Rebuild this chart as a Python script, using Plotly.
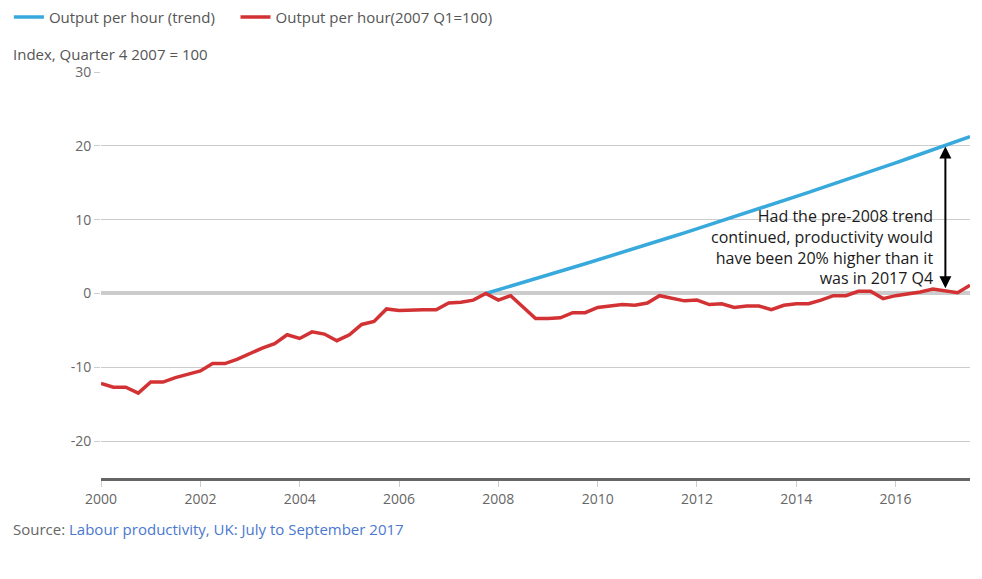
import pandas as pd
import plotly.graph_objects as go

# quarterly points, 2000 Q1 to 2017 Q3
quarters = pd.date_range("2000-01-01", "2017-07-01", freq="QS")
trend_quarters = pd.date_range("2007-10-01", "2017-07-01", freq="QS")

actual_vals = [
    -12.2, -12.7, -12.7, -13.5,
    -12.0, -12.0, -11.4, -11.0,
    -10.5, -9.5, -9.5, -8.9,
    -8.1, -7.4, -6.8, -5.6,
    -6.1, -5.2, -5.5, -6.4,
    -5.6, -4.2, -3.8, -2.1,
    -2.3, -2.2, -2.2, -2.2,
    -1.3, -1.2, -0.9, 0.0,
    -0.9, -0.3, -1.9, -3.4,
    -3.4, -3.3, -2.6, -2.6,
    -1.9, -1.7, -1.5, -1.6,
    -1.3, -0.3, -0.7, -1.0,
    -0.9, -1.5, -1.4, -1.9,
    -1.7, -1.7, -2.2, -1.6,
    -1.4, -1.4, -0.9, -0.3,
    -0.3, 0.3, 0.3, -0.7,
    -0.3, -0.1, 0.2, 0.6,
    0.3, 0.1, 1.1,
]

trend_vals = [
    0.0, 0.49, 0.99, 1.49, 1.99, 2.49, 3.00, 3.51, 4.02, 4.53,
    5.05, 5.57, 6.09, 6.62, 7.15, 7.68, 8.21, 8.75, 9.29, 9.83,
    10.37, 10.92, 11.47, 12.02, 12.58, 13.13, 13.69, 14.26, 14.82, 15.39,
    15.97, 16.54, 17.12, 17.70, 18.28, 18.86, 19.45, 20.04, 20.64, 21.23,
]

y_ticks = [-20, -10, 0, 10, 20, 30]
y_labels = ["-20", "-10", "0", "10", "20", "30"]
x_ticks = [str(y) + "-01-01" for y in range(2000, 2017, 2)]
x_labels = [str(y) for y in range(2000, 2017, 2)]

BLUE = "#37a9dc"
RED = "#d33234"
GREY_TXT = "#666666"

fig = go.Figure()
# &nbsp; padding spaces the two legend entries like the original
fig.add_trace(go.Scatter(x=trend_quarters, y=trend_vals, mode="lines",
                         line=dict(color=BLUE, width=3.5),
                         name="Output per hour (trend)&nbsp;&nbsp;&nbsp;&nbsp;"))
fig.add_trace(go.Scatter(x=quarters, y=actual_vals, mode="lines",
                         line=dict(color=RED, width=3.5),
                         name="Output per hour(2007 Q1=100)"))

# double headed arrow showing the gap
fig.add_annotation(x="2017-01-01", y=19.9, ax="2017-01-01", ay=0.5,
                   xref="x", yref="y", axref="x", ayref="y",
                   showarrow=True, arrowhead=2, startarrowhead=2,
                   arrowside="end+start", arrowsize=1.2, arrowwidth=2,
                   arrowcolor="black", text="")

fig.add_annotation(x="2016-10-20", y=0.35, xref="x", yref="y",
                   xanchor="right", yanchor="bottom", align="right",
                   showarrow=False,
                   text="Had the pre-2008 trend<br>continued, productivity would<br>"
                        "have been 20% higher than it<br>was in 2017 Q4",
                   font=dict(family="Open Sans", size=16, color="#1a1a1a"))

fig.add_annotation(x=-0.103, y=1.045, xref="paper", yref="paper",
                   xanchor="left", yanchor="middle", showarrow=False,
                   text="Index, Quarter 4 2007 = 100",
                   font=dict(family="Open Sans", size=15, color="#555555"))

fig.add_annotation(x=-0.103, y=-0.125, xref="paper", yref="paper",
                   xanchor="left", yanchor="middle", showarrow=False,
                   text="Source: <span style='color:#4a78cf'>Labour productivity, UK: July to September 2017</span>",
                   font=dict(family="Open Sans", size=15, color=GREY_TXT))

fig.update_xaxes(type="date", range=["2000-01-01", "2017-07-01"],
                 tickvals=x_ticks, ticktext=x_labels,
                 showgrid=False, showline=True, linecolor="#666666", linewidth=3,
                 ticks="outside", ticklen=6, tickcolor="#cccccc",
                 tickfont=dict(family="Open Sans", size=14, color=GREY_TXT))
fig.update_yaxes(range=[-25, 30], tickvals=y_ticks, ticktext=y_labels,
                 showgrid=True, gridcolor="#cccccc", gridwidth=1,
                 zeroline=True, zerolinecolor="#cccccc", zerolinewidth=4,
                 ticks="outside", ticklen=6, tickcolor="#cccccc",
                 tickfont=dict(family="Open Sans", size=14, color=GREY_TXT))

# the page body adds 8px, so the figure is 8px smaller and margins shifted
fig.update_layout(width=974, height=571,
                  margin=dict(l=93, r=12, t=64, b=101, autoexpand=False),
                  plot_bgcolor="white", paper_bgcolor="white",
                  showlegend=True,
                  legend=dict(orientation="h", x=-0.106, y=1.135,
                              xanchor="left", yanchor="middle",
                              font=dict(family="Open Sans", size=15, color="#555555")),
                  font=dict(family="Open Sans"))

fig.write_html("out.html")
